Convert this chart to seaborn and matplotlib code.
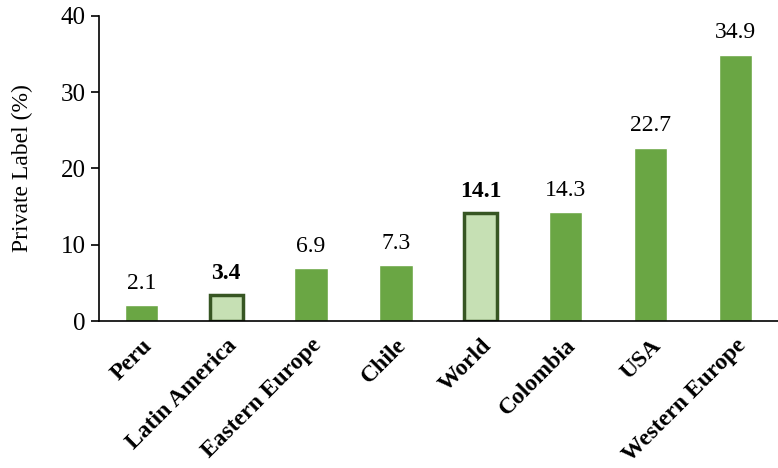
import seaborn as sns
import matplotlib.pyplot as plt
import pandas as pd

regions = ["Peru", "Latin America", "Eastern Europe", "Chile", "World",
           "Colombia", "USA", "Western Europe"]
share = [2.1, 3.4, 6.9, 7.3, 14.1, 14.3, 22.7, 34.9]
highlight = ["Latin America", "World"]

sns.set_style("ticks")
plt.rcParams['font.family'] = ['Liberation Serif', 'DejaVu Serif']
plt.rcParams['text.color'] = 'black'
plt.rcParams['axes.labelcolor'] = 'black'
plt.rcParams['xtick.color'] = 'black'
plt.rcParams['ytick.color'] = 'black'

df = pd.DataFrame({"region": regions, "share": share})

fig = plt.figure(figsize=(7.78, 4.68), dpi=100)
ax = fig.add_axes([0.127, 0.314, 0.873, 0.652])
sns.barplot(data=df, x="region", y="share", color="#6aa644", width=0.39,
            saturation=1, ax=ax)

for patch, name, val in zip(ax.patches, regions, share):
    bold = name in highlight
    if bold:
        patch.set_facecolor("#c6e0b4")
        patch.set_edgecolor("#375623")
        patch.set_linewidth(2.5)
    ax.text(patch.get_x() + patch.get_width() / 2, val + 1.5, f"{val:.1f}",
            ha="center", va="bottom", fontsize=17,
            fontweight="bold" if bold else "normal")

ax.set_ylim(0, 40)
ax.set_xlim(-0.5, 7.5)
ax.set_yticks([0, 10, 20, 30, 40])
ax.set_xlabel("")
ax.set_ylabel("Private Label (%)", fontsize=17, labelpad=20)
ax.tick_params(axis="y", labelsize=18, length=6, width=1.2)
ax.tick_params(axis="x", length=0, pad=10)
ax.set_xticks(range(len(regions)))
ax.set_xticklabels(regions, rotation=45, ha="right", rotation_mode="anchor",
                   fontsize=17, fontweight="bold")
sns.despine(ax=ax)
for s in ["left", "bottom"]:
    ax.spines[s].set_color("black")
    ax.spines[s].set_linewidth(1.2)

fig.savefig("out.png", dpi=100)
